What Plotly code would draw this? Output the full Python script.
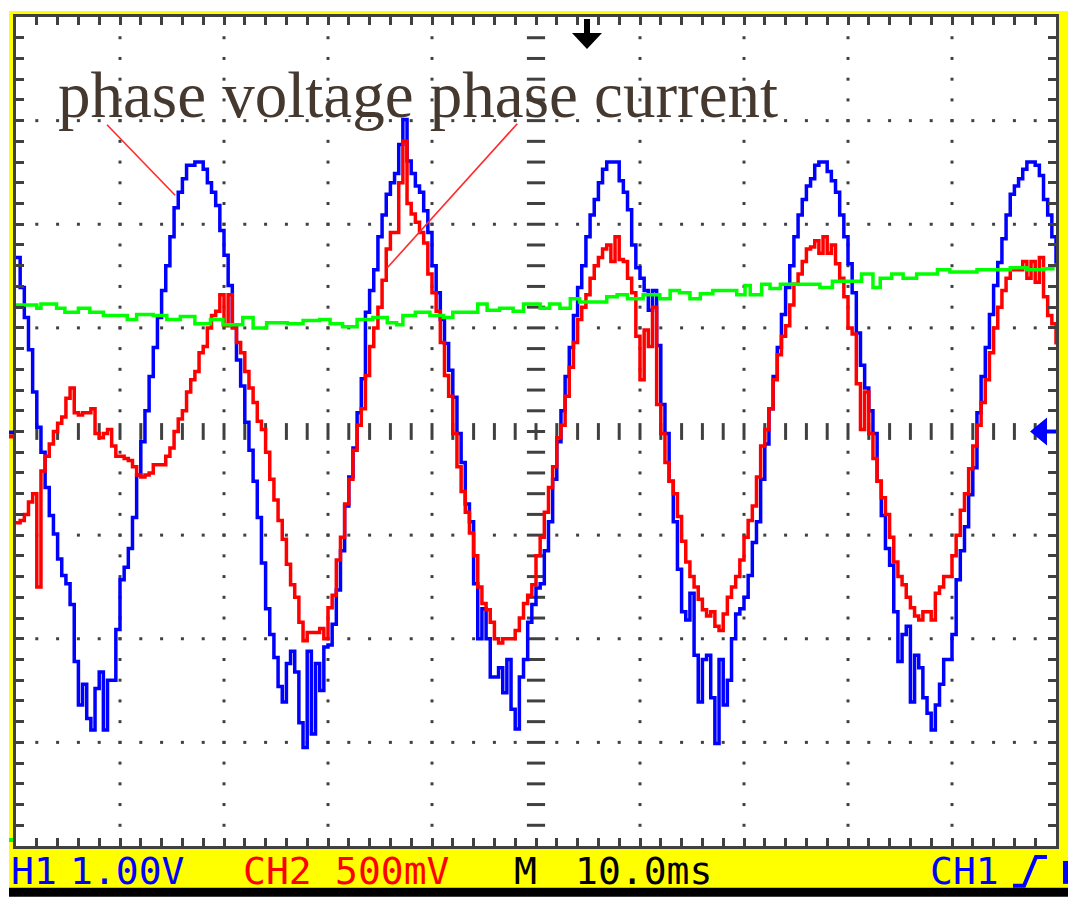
import numpy as np
import plotly.graph_objects as go

# oscilloscope capture: 10 ms/div, CH1 1.00 V/div, CH2 500 mV/div
sample_ms = 0.4          # 250 samples across the 100 ms screen
ch1_scale = 1.0          # V per division
ch2_scale = 0.5          # V per division

# CH1 phase voltage (V)
ch1_v = [
    1.68, 1.39, 1.10, 0.79, 0.38, 0.04, -0.20, -0.54, -0.81, -0.99,
    -1.23, -1.39, -1.47, -1.67, -2.22, -2.64, -2.44, -2.77, -2.88, -2.48,
    -2.32, -2.88, -2.40, -2.40, -1.91, -1.43, -1.31, -1.13, -0.83, -0.42,
    -0.10, 0.20, 0.53, 0.81, 1.10, 1.36, 1.60, 1.88, 2.16, 2.31,
    2.44, 2.57, 2.57, 2.60, 2.60, 2.53, 2.40, 2.31, 2.18, 1.94,
    1.70, 1.41, 1.01, 0.69, 0.44, 0.09, -0.18, -0.48, -0.83, -1.27,
    -1.71, -1.96, -2.18, -2.46, -2.61, -2.24, -2.12, -2.32, -2.81, -3.05,
    -2.12, -2.92, -2.24, -2.50, -2.08, -2.06, -1.86, -1.53, -1.15, -0.72,
    -0.44, -0.16, 0.18, 0.51, 1.15, 1.36, 1.56, 1.88, 2.09, 2.29,
    2.40, 2.49, 2.77, 3.01, 2.61, 2.49, 2.37, 2.31, 2.13, 1.92,
    1.60, 1.34, 1.08, 0.85, 0.59, 0.33, -0.02, -0.30, -0.70, -0.87,
    -1.47, -2.00, -1.71, -2.00, -2.37, -2.37, -2.28, -2.52, -2.20, -2.68,
    -2.87, -2.37, -2.20, -1.84, -1.67, -1.51, -1.47, -1.15, -0.87, -0.46,
    -0.10, 0.20, 0.53, 0.81, 1.12, 1.39, 1.60, 1.88, 2.09, 2.24,
    2.40, 2.53, 2.60, 2.60, 2.60, 2.42, 2.31, 2.14, 1.80, 1.58,
    1.48, 1.36, 1.17, 1.36, 0.83, 0.26, -0.02, -0.48, -0.87, -1.33,
    -1.74, -1.82, -1.56, -2.16, -2.61, -2.20, -2.16, -2.57, -3.01, -2.20,
    -2.64, -2.40, -2.00, -1.76, -1.71, -1.60, -1.39, -1.07, -0.87, -0.46,
    -0.12, 0.22, 0.53, 0.81, 1.13, 1.39, 1.60, 1.88, 2.09, 2.24,
    2.37, 2.44, 2.57, 2.60, 2.60, 2.51, 2.42, 2.31, 2.09, 1.88,
    1.62, 1.34, 0.95, 0.64, 0.42, 0.20, -0.02, -0.48, -0.81, -1.13,
    -1.29, -1.74, -2.22, -1.96, -1.88, -2.61, -2.16, -2.28, -2.57, -2.72,
    -2.88, -2.64, -2.44, -2.20, -2.20, -1.96, -1.43, -1.15, -0.92, -0.61,
    -0.35, 0.18, 0.53, 0.81, 1.13, 1.41, 1.63, 1.86, 2.09, 2.29,
    2.37, 2.44, 2.53, 2.60, 2.60, 2.57, 2.47, 2.24, 2.09, 1.88,
    1.62,
]

# CH2 phase current probe (V)
ch2_v = [
    -0.44, -0.43, -0.40, -0.34, -0.30, -0.75, -0.19, -0.12, -0.06, 0.00,
    0.04, 0.07, 0.16, 0.21, 0.09, 0.08, 0.09, 0.09, 0.11, -0.01,
    -0.03, -0.01, 0.01, -0.07, -0.12, -0.12, -0.13, -0.14, -0.17, -0.21,
    -0.22, -0.21, -0.20, -0.16, -0.16, -0.16, -0.12, -0.08, 0.00, 0.06,
    0.10, 0.19, 0.25, 0.29, 0.38, 0.41, 0.50, 0.56, 0.58, 0.66,
    0.51, 0.66, 0.50, 0.43, 0.38, 0.29, 0.21, 0.14, 0.05, 0.01,
    -0.10, -0.23, -0.33, -0.43, -0.52, -0.64, -0.74, -0.80, -0.92, -1.01,
    -0.97, -0.97, -0.97, -0.95, -1.00, -0.85, -0.79, -0.62, -0.51, -0.35,
    -0.23, -0.09, 0.03, 0.11, 0.27, 0.41, 0.50, 0.60, 0.73, 0.88,
    0.96, 0.96, 1.20, 1.40, 1.10, 1.05, 1.01, 0.96, 0.91, 0.76,
    0.67, 0.58, 0.43, 0.27, 0.17, -0.01, -0.17, -0.29, -0.39, -0.49,
    -0.60, -0.75, -0.83, -0.86, -0.92, -1.00, -1.02, -1.00, -1.00, -1.00,
    -0.96, -0.90, -0.83, -0.79, -0.74, -0.60, -0.51, -0.39, -0.27, -0.17,
    -0.03, 0.03, 0.17, 0.31, 0.43, 0.54, 0.60, 0.66, 0.74, 0.80,
    0.84, 0.88, 0.90, 0.82, 0.94, 0.83, 0.82, 0.74, 0.67, 0.46,
    0.25, 0.49, 0.41, 0.60, 0.13, -0.01, -0.15, -0.24, -0.30, -0.41,
    -0.53, -0.63, -0.70, -0.75, -0.81, -0.86, -0.89, -0.87, -0.94, -0.96,
    -0.88, -0.80, -0.75, -0.70, -0.62, -0.51, -0.43, -0.36, -0.22, -0.07,
    0.01, 0.11, 0.25, 0.37, 0.46, 0.51, 0.61, 0.71, 0.76, 0.82,
    0.88, 0.89, 0.92, 0.86, 0.94, 0.86, 0.90, 0.81, 0.74, 0.65,
    0.50, 0.47, 0.23, 0.01, 0.19, -0.01, -0.13, -0.24, -0.32, -0.40,
    -0.51, -0.63, -0.70, -0.74, -0.80, -0.85, -0.89, -0.91, -0.87, -0.87,
    -0.91, -0.78, -0.75, -0.70, -0.70, -0.60, -0.50, -0.38, -0.30, -0.18,
    -0.07, 0.03, 0.14, 0.25, 0.38, 0.50, 0.60, 0.68, 0.74, 0.78,
    0.78, 0.78, 0.82, 0.74, 0.82, 0.72, 0.84, 0.65, 0.56, 0.52,
    0.42,
]

# third (green) trace, in divisions
ch3_t = [0, 2.0, 2.4, 3.9, 4.7, 6.0, 7.1, 8.4, 10.7, 11.6,
         13.2, 14.5, 15.8, 17.2, 18.7, 19.9, 21.8, 22.8, 24.1, 26.1,
         27.6, 29.2, 30.2, 31.4, 32.8, 34.3, 35.7, 36.6, 37.2, 38.4,
         39.8, 41.1, 42.0, 43.4, 44.4, 45.3, 46.5, 47.8, 48.8, 50.4,
         51.3, 52.3, 53.3, 54.2, 55.5, 56.8, 57.8, 58.8, 60.3, 61.9,
         62.9, 63.8, 64.8, 65.8, 67.0, 68.7, 69.3, 70.1, 70.6, 71.7,
         72.5, 73.5, 75.1, 76.3, 77.3, 78.5, 80.2, 81.3, 82.4, 83.1,
         84.2, 85.3, 86.6, 88.6, 89.8, 91.1, 92.4, 94.3, 95.6, 97.2,
         98.8, 99.7, 100]
ch3_div = [1.22, 1.19, 1.23, 1.19, 1.15, 1.19, 1.15, 1.12, 1.08, 1.13,
           1.12, 1.08, 1.11, 1.04, 1.08, 1.03, 1.10, 1.00, 1.05, 1.04,
           1.07, 1.08, 1.04, 1.01, 1.08, 1.10, 1.05, 1.03, 1.12, 1.15,
           1.12, 1.10, 1.15, 1.15, 1.23, 1.17, 1.19, 1.16, 1.23, 1.19,
           1.23, 1.19, 1.28, 1.25, 1.25, 1.30, 1.32, 1.28, 1.32, 1.28,
           1.36, 1.34, 1.28, 1.33, 1.36, 1.36, 1.32, 1.41, 1.32, 1.42,
           1.38, 1.42, 1.42, 1.42, 1.39, 1.45, 1.45, 1.52, 1.39, 1.48,
           1.52, 1.48, 1.52, 1.56, 1.54, 1.54, 1.56, 1.56, 1.58, 1.56,
           1.57, 1.60, 1.60]

# hand-drawn pointer lines from the label (ms, div)
ptr_voltage_t = [8.75, 15.3]
ptr_voltage_y = [2.96, 2.28]
ptr_current_t = [48.2, 35.7]
ptr_current_y = [2.97, 1.58]

label = "phase voltage phase current"

# pixel geometry of the page; the html body has an 8px margin
W, H = 1080, 906
OFF = 8
L, R, T, B = 16, 1056, 14, 846


def fx(px):
    return (px - L) / (R - L)


def fy(py):
    return (B - py) / (B - T)


def rect(x0, y0, x1, y1, color, layer="above"):
    return dict(type="rect", xref="paper", yref="paper",
                x0=fx(x0), x1=fx(x1), y0=fy(y1), y1=fy(y0),
                fillcolor=color, line=dict(width=0), layer=layer)


def poly(pts, color, fill=True, width=0):
    d = "M " + " L ".join(f"{fx(a):.5f},{fy(b):.5f}" for a, b in pts)
    if fill:
        d += " Z"
    return dict(type="path", xref="paper", yref="paper", path=d,
                fillcolor=color if fill else None,
                line=dict(color=color, width=width), layer="above")


t = np.arange(len(ch1_v)) * sample_ms
t2 = np.arange(len(ch2_v)) * sample_ms

grid = "#404040"
fig = go.Figure()

# dotted graticule
gx, gy = [], []
for tv in range(10, 100, 10):
    if tv == 50:
        continue
    for k in range(1, 40):
        yv = round(-4 + 0.2 * k, 2)
        if yv == 0:
            continue
        gx.append(tv)
        gy.append(yv)
for yv in (-3, -2, -1, 1, 2, 3):
    for k in range(1, 50):
        if 2 * k == 50:
            continue
        gx.append(2 * k)
        gy.append(yv)
fig.add_trace(go.Scatter(x=gx, y=gy, mode="markers", hoverinfo="skip",
                         marker=dict(symbol="square", size=3, color=grid)))

# centre axes with dashes
fig.add_trace(go.Scatter(x=[2 * k for k in range(1, 50)], y=[0] * 49,
                         mode="markers", hoverinfo="skip",
                         marker=dict(symbol="line-ns", size=12,
                                     line=dict(color=grid, width=3))))
fig.add_trace(go.Scatter(x=[50] * 39, y=[round(-4 + 0.2 * k, 2) for k in range(1, 40)],
                         mode="markers", hoverinfo="skip",
                         marker=dict(symbol="line-ew", size=13,
                                     line=dict(color=grid, width=3))))

fig.add_trace(go.Scatter(x=t, y=np.array(ch1_v) / ch1_scale, mode="lines",
                         line=dict(color="#0000ff", width=3.5, shape="hv")))
fig.add_trace(go.Scatter(x=t2, y=np.array(ch2_v) / ch2_scale, mode="lines",
                         line=dict(color="#ff0000", width=3.5, shape="hv")))
fig.add_trace(go.Scatter(x=ch3_t, y=ch3_div, mode="lines",
                         line=dict(color="#00ff00", width=3.5, shape="hv")))

for px_, py_ in ((ptr_voltage_t, ptr_voltage_y), (ptr_current_t, ptr_current_y)):
    fig.add_trace(go.Scatter(x=px_, y=py_, mode="lines",
                             line=dict(color="#ff2a2a", width=1.6)))

shapes = [
    rect(9, 8, 1068, 888, "#ffff00", "below"),
    rect(9, 888, 1068, 897, "#000000", "below"),
    rect(L, T, R, B, "#ffffff", "below"),
    # trigger position arrow
    rect(584, 16, 590, 31, "#000000"),
    poly([(572, 30), (602, 30), (587, 46)], "#000000"),
    # ground/trigger level marker on the right
    poly([(1030, 430), (1047, 416), (1047, 444)], "#0000ff"),
    rect(1046, 428, 1056, 432, "#0000ff"),
    # channel markers on the left border
    rect(9, 429, 14, 433, "#0000ff"),
    rect(9, 433, 14, 437, "#ff0000"),
    rect(9, 838, 13, 842, "#00ff00"),
    # rising edge icon and clipped glyph in the status bar
    poly([(1013, 886), (1024, 886), (1036, 857), (1047, 857)], "#0000ff", fill=False, width=4),
    rect(1063, 861, 1068, 884, "#0000ff"),
]

status = [
    ("H1", 9, "#0000ff"),
    ("1.00V", 68, "#0000ff"),
    ("CH2", 241, "#ff0000"),
    ("500mV", 333, "#ff0000"),
    ("M", 512, "#000000"),
    ("10.0ms", 573, "#000000"),
    ("CH1", 928, "#0000ff"),
]
annotations = [
    dict(text=s, x=fx(x0), y=fy(871), xref="paper", yref="paper",
         xanchor="left", yanchor="middle", showarrow=False,
         font=dict(family="DejaVu Sans Mono", size=38, color=c))
    for s, x0, c in status
]
annotations.append(dict(text=label, x=fx(56), y=fy(92), xref="paper", yref="paper",
                        xanchor="left", yanchor="middle", showarrow=False,
                        font=dict(family="Liberation Serif", size=65, color="#45382e")))

axis = dict(showline=True, linecolor=grid, linewidth=3, mirror="ticks",
            ticks="inside", ticklen=8, tickwidth=3, tickcolor=grid,
            showticklabels=False, showgrid=False, zeroline=False)

fig.update_layout(
    width=W - OFF, height=H - OFF,
    margin=dict(l=L - OFF, r=W - R, t=T - OFF, b=H - B),
    paper_bgcolor="#ffffff", plot_bgcolor="#ffffff",
    showlegend=False,
    xaxis=dict(range=[0, 100], dtick=2, tick0=0, **axis),
    yaxis=dict(range=[-4, 4], dtick=0.2, tick0=0, **axis),
    shapes=shapes,
    annotations=annotations,
)

fig.write_html("out.html")
